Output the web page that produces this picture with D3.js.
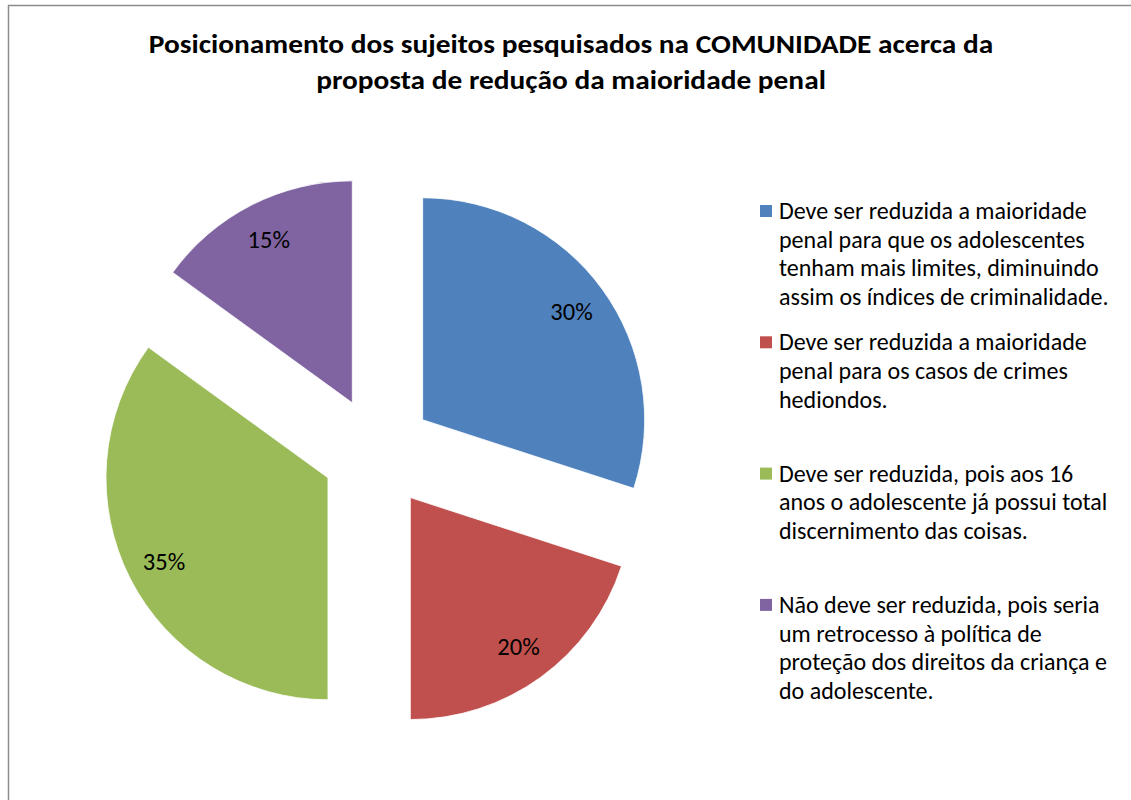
<!DOCTYPE html>
<html lang="pt">
<head>
<meta charset="UTF-8">
<title>Posicionamento - COMUNIDADE</title>
<script src="https://cdnjs.cloudflare.com/ajax/libs/d3/7.8.5/d3.min.js"></script>
<style>
    body { margin: 0; background: #fff; }
    svg { display: block; font-family: Carlito, "Liberation Sans", Arial, sans-serif; }
</style>
</head>
<body>
<svg id="chart" width="1131" height="800"></svg>
<script>
// data
var titleLines = [
    "Posicionamento dos sujeitos pesquisados na COMUNIDADE acerca da",
    "proposta de redução da maioridade penal"
];
var categories = [
    "Deve ser reduzida a maioridade\npenal para que os adolescentes\ntenham mais limites, diminuindo\nassim os índices de criminalidade.",
    "Deve ser reduzida a maioridade\npenal para os casos de crimes\nhediondos.",
    "Deve ser reduzida, pois aos 16\nanos o adolescente já possui total\ndiscernimento das coisas.",
    "Não deve ser reduzida, pois seria\num retrocesso à política de\nproteção dos direitos da criança e\ndo adolescente."
];
var shares = [30, 20, 35, 15];
var colors = ["#4F81BD", "#C0504D", "#9BBB59", "#8064A2"];

var svg = d3.select("#chart");

// chart frame
svg.append("rect")
    .attr("x", 8.5).attr("y", 5.5)
    .attr("width", 1200).attr("height", 900)
    .attr("fill", "none")
    .attr("stroke", "#8c8c8c")
    .attr("stroke-width", 1.5);

// title (the original looks a bit stretched sideways)
svg.append("text")
    .attr("transform", "translate(571,53) scale(1.13,1)")
    .attr("text-anchor", "middle")
    .style("font-size", "26px")
    .style("font-weight", "bold")
    .selectAll("tspan")
    .data(titleLines)
    .enter().append("tspan")
    .attr("x", 0)
    .attr("dy", function (d, i) { return i ? 36 : 0; })
    .text(function (d) { return d; });

// pie
var cx = 377.6, cy = 452.5, radius = 222, explode = 55.7, labelR = 184;

var pie = d3.pie().sort(null).value(function (d) { return d; });
var arcs = pie(shares);

var arc = d3.arc().innerRadius(0).outerRadius(radius);

var g = svg.append("g").attr("transform", "translate(" + cx + "," + cy + ")");

var slice = g.selectAll(".slice")
    .data(arcs)
    .enter().append("g")
    .attr("class", "slice")
    .attr("transform", function (d) {
        var a = (d.startAngle + d.endAngle) / 2;
        return "translate(" + (explode * Math.sin(a)) + "," + (-explode * Math.cos(a)) + ")";
    });

slice.append("path")
    .attr("d", arc)
    .attr("fill", function (d, i) { return colors[i]; })
    .attr("stroke", "#fff")
    .attr("stroke-width", 0.8);

slice.append("text")
    .attr("transform", function (d) {
        var a = (d.startAngle + d.endAngle) / 2;
        return "translate(" + (labelR * Math.sin(a)) + "," + (-labelR * Math.cos(a)) + ")";
    })
    .attr("text-anchor", "middle")
    .attr("dy", "0.36em")
    .style("font-size", "24.5px")
    .attr("fill", "#000")
    .text(function (d) { return d.data + "%"; });

// legend
var legend = svg.append("g").attr("transform", "translate(760,219)");

var item = legend.selectAll(".item")
    .data(categories)
    .enter().append("g")
    .attr("class", "item")
    .attr("transform", function (d, i) { return "translate(0," + (i * 131.3) + ")"; });

item.append("rect")
    .attr("x", 0).attr("y", -14)
    .attr("width", 12).attr("height", 12)
    .attr("fill", function (d, i) { return colors[i]; });

item.append("text")
    .style("font-size", "24px")
    .attr("fill", "#000")
    .selectAll("tspan")
    .data(function (d) { return d.split("\n"); })
    .enter().append("tspan")
    .attr("x", 19)
    .attr("y", function (d, i) { return i * 28.7; })
    .text(function (d) { return d; });
</script>
</body>
</html>
